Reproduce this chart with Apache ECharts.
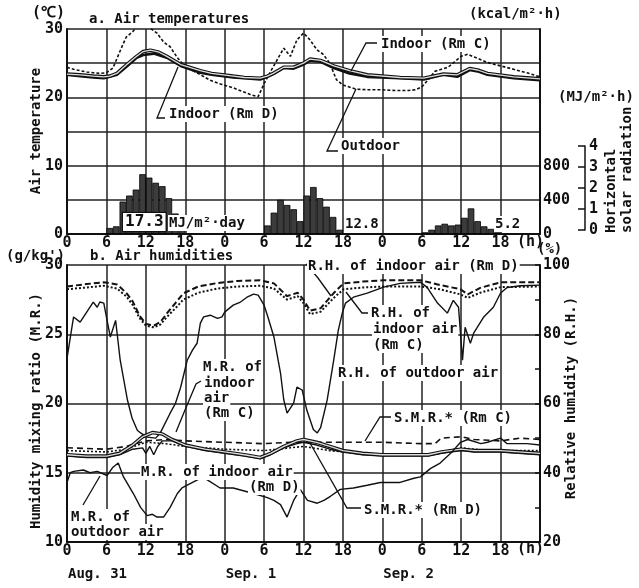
<!DOCTYPE html>
<html>
<head>
<meta charset="utf-8">
<script src="https://cdn.jsdelivr.net/npm/echarts@6/dist/echarts.min.js"></script>
<style>
  html, body { margin: 0; padding: 0; background: #fff; }
  #chart { width: 639px; height: 588px; }
</style>
</head>
<body>
<div id="chart"></div>
<script>
// hours are counted from 0 h on Aug. 31 (72 = end of Sep. 2)
const dayStarts = [0, 24, 48]
const dayNames = ['Aug. 31', 'Sep. 1', 'Sep. 2']

// a. air temperatures (deg C), [hour, value]
const outdoorTemp = [[0,24.4],[1,24.1],[2,23.9],[3,23.7],[4,23.6],[5,23.5],[6,23.6],[7,24.3],[8,26.6],[9,28.8],[10,29.6],[11,30.8],[12,30.9],[12.7,30.1],[13.7,29.4],[14.7,28.1],[15.7,27.4],[16.8,25.8],[17.5,25.0],[19,24.0],[20.3,23.3],[21.8,22.5],[23.5,21.9],[25.3,21.4],[27.9,20.4],[29.1,20.1],[30,22.0],[31,23.8],[32,25.5],[33,27.2],[34,26.0],[35,28.4],[36,29.4],[37,28.4],[38,27.0],[39,26.3],[40,25.0],[41,22.6],[42,21.8],[44,21.2],[46,21.1],[48,21.1],[50,21.0],[52,21.0],[53,21.1],[54,21.5],[55,22.6],[56,23.8],[57,24.1],[58,24.4],[59,25.2],[60,26.0],[61,26.3],[62,25.9],[63,25.5],[64,25.1],[66,24.6],[68,24.1],[70,23.6],[72,23.0]]
const indoorTempD = [[0,23.3],[2,23.1],[4,22.9],[5.6,22.8],[6.5,23.0],[7.6,23.3],[9.1,24.5],[10.6,25.8],[11.6,26.2],[13.2,26.4],[15.2,25.8],[17.3,24.6],[20.3,23.6],[22,23.3],[25.3,22.9],[27,22.8],[29.4,22.6],[30.5,23.0],[31.4,23.4],[33,24.3],[34.5,24.2],[36,24.8],[37,25.4],[38.6,25.2],[40.6,24.3],[43,23.5],[45.7,23.0],[50.7,22.8],[54.3,22.6],[57.3,23.3],[59.4,23.0],[61.3,24.0],[62.5,23.8],[64,23.3],[68,22.8],[72,22.5]]
const indoorTempC = [[0,23.4],[2,23.3],[4,23.1],[5.6,23.0],[6.5,23.1],[7.6,23.5],[9.1,24.8],[10.6,26.0],[11.6,26.7],[12.7,26.9],[14,26.6],[15.2,26.0],[17.3,24.8],[20.3,23.9],[22,23.5],[25.3,23.1],[27,22.9],[29.4,22.8],[30.5,23.1],[31.4,23.5],[33,24.4],[34.5,24.4],[36,25.0],[37,25.6],[38.6,25.4],[40.6,24.6],[43,23.9],[45.7,23.3],[50.7,22.9],[54.3,22.8],[57.3,23.4],[59.4,23.3],[61.3,24.2],[62.5,24.0],[64,23.5],[68,23.0],[72,22.7]]

// horizontal solar radiation (kcal/m2.h), one bar per hour starting at the given hour
const solarHours = [6,7,8,9,10,11,12,13,14,15,16,17, 30,31,32,33,34,35,36,37,38,39,40,41, 54,55,56,57,58,59,60,61,62,63,64,65]
const solarValues = [70,90,380,450,520,700,660,600,560,420,240,110, 100,250,400,340,290,150,450,550,420,320,200,50, 20,50,100,120,100,110,190,300,150,90,60,20]
const dailyTotals = ['17.3', '12.8', '5.2']

// b. air humidities
const rhIndoorD = [[0,93.8],[3,94.5],[5.6,95.0],[7.6,94.4],[9,92],[10,89.5],[11,85.5],[12,83],[13.2,82.5],[14.2,83.5],[15.2,86],[16.5,89],[17.7,91.8],[20,93.8],[22.9,94.8],[26,95.4],[29.4,95.6],[31.5,94.7],[33.5,91],[35.1,92],[36,90],[37,86.8],[38.6,87.5],[40.6,91.9],[42.1,94.7],[45,95.2],[48.2,95.6],[53.8,95.6],[56.8,94.2],[59.9,93],[61,91.5],[62.9,93.4],[66,95],[72,95]]
const rhIndoorC = [[0,93.0],[3,93.5],[5.6,94.0],[7.6,93.2],[9,91],[10,88.5],[11,84.8],[12,82.5],[13.2,82.0],[14.2,82.8],[15.2,85],[16.5,87.5],[17.7,90],[20,92],[22.9,93.2],[26,93.8],[29.4,94.0],[31.5,93.2],[33.5,90],[35.1,91],[36,89],[37,85.8],[38.6,86.5],[40.6,90.5],[42.1,93],[45,93.5],[48.2,93.8],[53.8,93.8],[56.8,93],[59.9,91.5],[61,90.5],[62.9,92],[66,93.6],[72,93.8]]
const rhOutdoor = [[0,73],[0.5,79],[1,85],[2,83.5],[3,86.4],[4,89.3],[4.6,87.8],[5,89.3],[5.6,89],[6.1,84],[6.6,79.2],[7.4,84],[8.1,72.5],[9.2,61],[9.9,55.8],[10.7,52.3],[11.2,51.5],[12.2,50.3],[13.5,50],[14.2,51.5],[15.7,57.2],[16.5,60],[17.3,64.7],[18.3,72.5],[19.1,75.4],[19.8,77.4],[20.3,83.2],[20.8,85],[21.8,85.5],[22.9,84.6],[23.6,85],[24,86.4],[25.3,88.4],[26.4,89.3],[27.4,90.7],[28.4,91.6],[29.1,91.3],[30,88.4],[30.5,85.5],[31.5,79.2],[32.5,68.8],[33,61],[33.5,57.2],[34.5,60.1],[35,64.7],[35.8,63.9],[36.5,58.1],[37.5,52.5],[38.1,51.5],[38.6,53],[39.6,61],[40.6,72.5],[41.3,81.2],[41.9,86.1],[42.4,89],[43.6,90.7],[45.7,91.9],[48.2,93.6],[50.7,94.7],[53.8,95],[54.8,93.6],[56.4,89],[57.9,86.1],[58.8,89.8],[59.6,87.8],[60.2,72.5],[60.6,82],[61.4,77.4],[61.9,80.3],[63.4,84.9],[64.9,87.8],[66,91.9],[67,93.5],[69,94],[72,94.2]]
const mrIndoorC = [[0,16.3],[3,16.2],[6,16.2],[8,16.4],[10,17.0],[11.5,17.6],[13,17.9],[14.5,17.8],[16,17.4],[18,17.0],[21,16.7],[24,16.5],[27,16.3],[29.4,16.1],[31,16.4],[33,16.9],[35,17.3],[36,17.4],[38,17.2],[40,16.9],[42,16.6],[45,16.4],[48,16.3],[52,16.3],[55,16.3],[57,16.5],[60,16.7],[62,16.6],[66,16.6],[72,16.4]]
const mrIndoorD = [[0,16.2],[3,16.1],[6,16.1],[8,16.3],[10,16.7],[11.5,16.8],[12,16.4],[12.6,16.9],[13.2,16.3],[13.8,16.9],[14.5,17.3],[16,17.3],[18,16.9],[21,16.6],[24,16.4],[27,16.2],[29.4,16.0],[31,16.3],[33,16.8],[35,17.1],[36,17.2],[38,17.0],[40,16.7],[42,16.5],[45,16.3],[48,16.2],[52,16.2],[55,16.2],[57,16.4],[60,16.6],[62,16.5],[66,16.5],[72,16.3]]
const smrC = [[0,16.8],[6,16.7],[9,16.9],[12,17.3],[15,17.4],[18,17.3],[24,17.2],[30,17.1],[34,17.2],[38,17.2],[42,17.2],[48,17.2],[54,17.1],[56,17.1],[57,17.5],[60,17.6],[62,17.4],[66,17.3],[69,17.5],[72,17.4]]
const smrD = [[0,16.6],[6,16.5],[9,16.7],[12,17.2],[15,17.1],[18,16.9],[24,16.7],[30,16.6],[34,16.8],[36,16.9],[40,16.6],[44,16.4],[48,16.3],[54,16.3],[57,16.5],[60,16.8],[64,16.6],[72,16.6]]
const mrOutdoor = [[0,14.3],[0.5,15.0],[1,15.1],[2.5,15.2],[3.5,15.0],[4.6,15.1],[6.1,14.8],[7,15.4],[7.8,15.7],[8.6,14.7],[10.1,13.5],[11.2,12.5],[12.2,11.9],[13,12.0],[13.7,11.8],[14.7,11.8],[15.7,12.5],[16.8,13.5],[17.5,13.9],[18.3,14.1],[20.3,14.6],[21.3,14.5],[23.3,13.9],[25.3,13.9],[28.4,13.5],[30.5,13.2],[31.5,13.0],[32.5,12.7],[33.5,11.8],[34.5,13.0],[35.5,13.8],[36.6,13.0],[38.1,12.8],[39.1,13.0],[40.1,13.3],[41.6,13.8],[43.6,13.9],[45.7,14.1],[47.7,14.3],[50.7,14.3],[52.8,14.6],[53.8,14.7],[55.3,15.3],[56.8,15.7],[58.4,16.4],[59.9,17.2],[61,17.4],[63,17.1],[64,17.2],[66,17.5],[67,17.1],[70,17.1],[72,17.0]]

const FONT = '"DejaVu Sans Mono", monospace'
const INK = '#111'

const chart = echarts.init(document.getElementById('chart'), null, { renderer: 'canvas' })

function hourAxis(gridIndex) {
  return {
    type: 'value', gridIndex, min: 0, max: 72, interval: 6,
    axisLine: { lineStyle: { color: INK, width: 2 } },
    axisTick: { show: false },
    axisLabel: { formatter: v => v === 72 ? '' : String(v % 24), color: INK, fontFamily: FONT, fontSize: 15, fontWeight: 'bold', margin: 2 },
    splitLine: { show: true, lineStyle: { color: '#222', width: 1.5 } }
  }
}

function line(name, data, xi, yi, style) {
  return { name, type: 'line', xAxisIndex: xi, yAxisIndex: yi, data, showSymbol: false, silent: true,
    lineStyle: Object.assign({ color: INK, width: 1.3 }, style), z: 3 }
}

function txt(x, y, s, extra) {
  return { type: 'text', x, y, z: 100, style: Object.assign({ text: s, fill: INK, font: 'bold 14px ' + FONT,
    textVerticalAlign: 'middle' }, extra || {}) }
}
function boxed(x, y, s) {
  return txt(x, y, s, { backgroundColor: '#fff', padding: [1, 1] })
}
function vtxt(x, y, s, align) {
  return { type: 'text', x, y, rotation: Math.PI / 2, z: 100,
    style: { text: s, fill: INK, font: 'bold 14px ' + FONT, textAlign: align, textVerticalAlign: 'middle' } }
}
function leader(points) {
  return { type: 'polyline', z: 99, shape: { points }, style: { stroke: INK, lineWidth: 1.3, fill: null } }
}

const solarData = solarHours.map((h, i) => [h + 0.5, solarValues[i]])
const labelStyle = { color: INK, fontFamily: FONT, fontSize: 15, fontWeight: 'bold' }

const option = {
  animation: false,
  backgroundColor: '#fff',
  grid: [
    { left: 67, right: 99, top: 29, height: 205 },
    { left: 67, right: 99, top: 265, height: 277 },
    { left: 585, width: 10, top: 146, height: 84 }
  ],
  xAxis: [hourAxis(0), hourAxis(1), { type: 'value', gridIndex: 2, show: false, min: 0, max: 1 }],
  yAxis: [
    { type: 'value', gridIndex: 0, min: 0, max: 30, interval: 5,
      axisLine: { show: true, lineStyle: { color: INK, width: 2 } }, axisTick: { show: false },
      axisLabel: Object.assign({ margin: 4, formatter: v => v % 10 === 0 ? v : '' }, labelStyle),
      splitLine: { lineStyle: { color: '#222', width: 1.5 } } },
    { type: 'value', gridIndex: 0, position: 'right', min: 0, max: 2400, interval: 400,
      axisLine: { show: true, lineStyle: { color: INK, width: 2 } }, axisTick: { show: false },
      axisLabel: Object.assign({ margin: 3, formatter: v => v <= 800 ? v : '' }, labelStyle),
      splitLine: { show: false } },
    { type: 'value', gridIndex: 1, min: 10, max: 30, interval: 5,
      axisLine: { show: true, lineStyle: { color: INK, width: 2 } }, axisTick: { show: false },
      axisLabel: Object.assign({ margin: 4 }, labelStyle),
      splitLine: { lineStyle: { color: '#222', width: 1.5 } } },
    { type: 'value', gridIndex: 1, position: 'right', min: 20, max: 100, interval: 10,
      axisLine: { show: true, lineStyle: { color: INK, width: 2 } },
      axisTick: { show: true, inside: true, length: 5, lineStyle: { color: INK, width: 1.5 } },
      axisLabel: Object.assign({ margin: 3, formatter: v => v % 20 === 0 ? v : '' }, labelStyle),
      splitLine: { show: false } },
    // MJ/m2.h bracket: line at the grid's left edge, ticks out to the left, labels to the right
    { type: 'value', gridIndex: 2, position: 'left', min: 0, max: 4, interval: 1,
      axisLine: { show: true, lineStyle: { color: INK, width: 1.5 } },
      axisTick: { show: true, inside: false, length: 7, lineStyle: { color: INK, width: 1.5 } },
      axisLabel: Object.assign({ inside: true, margin: 4 }, labelStyle),
      splitLine: { show: false } }
  ],
  series: [
    { name: 'Horizontal solar radiation', type: 'bar', xAxisIndex: 0, yAxisIndex: 1, data: solarData,
      barWidth: 6.6, silent: true, z: 2,
      itemStyle: { color: '#3c3c3c', borderColor: '#000', borderWidth: 0.8 } },
    line('Outdoor', outdoorTemp, 0, 0, { width: 1.6, type: [3, 2] }),
    line('Indoor (Rm D)', indoorTempD, 0, 0, { width: 2.6 }),
    line('Indoor (Rm C)', indoorTempC, 0, 0, { width: 3.6 }),
    line('Indoor (Rm C) core', indoorTempC, 0, 0, { width: 1.3, color: '#ddd' }),

    line('R.H. of indoor air (Rm D)', rhIndoorD, 1, 3, { width: 2, type: [6, 3] }),
    line('R.H. of indoor air (Rm C)', rhIndoorC, 1, 3, { width: 2, type: [2, 2] }),
    line('R.H. of outdoor air', rhOutdoor, 1, 3, { width: 1.4 }),
    line('S.M.R.* (Rm C)', smrC, 1, 2, { width: 1.6, type: [6, 4] }),
    line('S.M.R.* (Rm D)', smrD, 1, 2, { width: 1.6, type: [2, 2] }),
    line('M.R. of indoor air (Rm D)', mrIndoorD, 1, 2, { width: 1.4 }),
    line('M.R. of indoor air (Rm C)', mrIndoorC, 1, 2, { width: 3.6 }),
    line('M.R. of indoor air (Rm C) core', mrIndoorC, 1, 2, { width: 1.3, color: '#ddd' }),
    line('M.R. of outdoor air', mrOutdoor, 1, 2, { width: 1.4 })
  ],
  graphic: [
    // panel a
    txt(32, 13, '(℃)', { font: 'bold 15px ' + FONT }),
    txt(89, 19, 'a. Air temperatures'),
    txt(469, 14, '(kcal/m²·h)'),
    txt(558, 97, '(MJ/m²·h)'),
    vtxt(36, 131, 'Air temperature', 'center'),
    vtxt(611, 233, 'Horizontal', 'left'),
    vtxt(627, 233, 'solar radiation', 'left'),
    boxed(380, 44, 'Indoor (Rm C)'), leader([[377, 43], [366, 43], [351, 71]]),
    boxed(168, 114, 'Indoor (Rm D)'), leader([[165, 118], [157, 118], [178, 67]]),
    boxed(340, 146, 'Outdoor'), leader([[338, 151], [327, 151], [356, 89]]),
    txt(123, 222, dailyTotals[0], { font: 'bold 16px ' + FONT, backgroundColor: '#fff', borderColor: INK, borderWidth: 1.2, padding: [1, 2] }),
    boxed(168, 223, 'MJ/m²·day'),
    boxed(344, 224, dailyTotals[1]),
    boxed(494, 224, dailyTotals[2]),
    txt(517, 242, '(h)', { font: 'bold 15px ' + FONT }),
    txt(537, 249, '(%)'),
    // panel b
    txt(6, 256, "(g/kg')"),
    txt(90, 256, 'b. Air humidities'),
    vtxt(36, 411, 'Humidity mixing ratio (M.R.)', 'center'),
    vtxt(571, 398, 'Relative humidity (R.H.)', 'center'),
    boxed(307, 266, 'R.H. of indoor air (Rm D)'), leader([[306, 264], [318, 278], [331, 296]]),
    boxed(370, 313, 'R.H. of'), boxed(372, 329, 'indoor air'), boxed(372, 345, '(Rm C)'),
    leader([[368, 313], [362, 313], [346, 292]]),
    boxed(337, 373, 'R.H. of outdoor air'),
    boxed(202, 367, 'M.R. of'), boxed(203, 383, 'indoor'), boxed(203, 398, 'air'), boxed(203, 413, '(Rm C)'),
    leader([[201, 381], [196, 384], [185, 410], [176, 432]]),
    boxed(140, 472, 'M.R. of indoor air'), boxed(248, 487, '(Rm D)'),
    boxed(70, 517, 'M.R. of'), boxed(70, 532, 'outdoor air'),
    leader([[83, 505], [100, 476]]),
    boxed(393, 418, 'S.M.R.* (Rm C)'), leader([[391, 417], [380, 417], [365, 441]]),
    boxed(363, 510, 'S.M.R.* (Rm D)'), leader([[361, 508], [347, 508], [310, 443]]),
    txt(517, 549, '(h)', { font: 'bold 15px ' + FONT })
  ].concat(dayStarts.map((h, i) => txt(68 + h * (473 / 72), 574, dayNames[i])))
}

chart.setOption(option)
</script>
</body>
</html>
